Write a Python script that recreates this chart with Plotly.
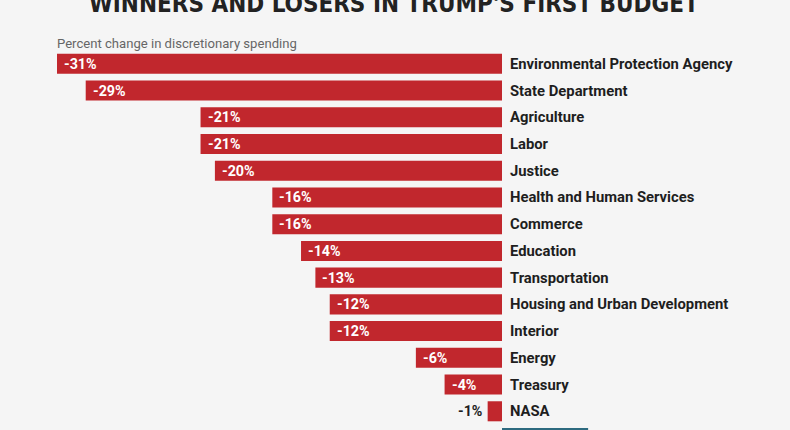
import plotly.graph_objects as go

departments = ["Environmental Protection Agency", "State Department", "Agriculture", "Labor",
               "Justice", "Health and Human Services", "Commerce", "Education", "Transportation",
               "Housing and Urban Development", "Interior", "Energy", "Treasury", "NASA",
               "Veterans Affairs"]
changes = [-31, -29, -21, -21, -20, -16, -16, -14, -13, -12, -12, -6, -4, -1, 6]

title_text = "WINNERS AND LOSERS IN TRUMP'S FIRST BUDGET"
subtitle_text = "Percent change in discretionary spending"

RED = "#c1272d"
TEAL = "#2d6a7f"
BG = "#f5f5f5"

colors = [RED if v < 0 else TEAL for v in changes]
idx = list(range(len(departments)))

fig = go.Figure(go.Bar(
    x=changes, y=idx, orientation="h",
    marker=dict(color=colors, line=dict(width=0)),
    width=0.75, hoverinfo="skip",
))

annotations = []
for i, (d, v) in enumerate(zip(departments, changes)):
    annotations.append(dict(x=0, y=i, xref="x", yref="y", text=d, showarrow=False,
                            xanchor="left", yanchor="middle", xshift=6,
                            font=dict(family="Roboto", size=14.8, color="#1e1e1e", weight="bold")))
    label = f"{v}%" if v < 0 else f"+{v}%"
    if abs(v) >= 3:
        annotations.append(dict(x=v, y=i, xref="x", yref="y", text=label, showarrow=False,
                                xanchor="left" if v < 0 else "right", yanchor="middle",
                                xshift=5 if v < 0 else -5,
                                font=dict(family="Roboto", size=14.3, color="white", weight="bold")))
    else:
        annotations.append(dict(x=v, y=i, xref="x", yref="y", text=label, showarrow=False,
                                xanchor="right", yanchor="middle", xshift=-4,
                                font=dict(family="Roboto", size=14.3, color="#1e1e1e", weight="bold")))

annotations.append(dict(x=394 / 790, y=1 - 15 / 430, xref="paper", yref="paper", text=title_text,
                        showarrow=False, xanchor="center", yanchor="bottom", yshift=-5,
                        font=dict(family="Liberation Sans Narrow, DejaVu Sans Condensed, Roboto",
                                  size=24, color="#222222", weight="bold")))
annotations.append(dict(x=55 / 790, y=1 - 50 / 430, xref="paper", yref="paper", text=subtitle_text,
                        showarrow=False, xanchor="left", yanchor="bottom", yshift=-3,
                        font=dict(family="Roboto", size=13.1, color="#666666")))

ppu = 445 / 31.0
x0 = 502
pitch = 26.73
c0 = 63.8

fig.update_layout(
    width=790, height=430,
    margin=dict(l=0, r=0, t=0, b=0),
    paper_bgcolor=BG, plot_bgcolor=BG,
    showlegend=False,
    xaxis=dict(range=[-x0 / ppu, (790 - x0) / ppu], visible=False, fixedrange=True),
    yaxis=dict(range=[(430 - c0) / pitch, -c0 / pitch], visible=False, fixedrange=True),
    annotations=annotations,
)

fig.write_html("out.html")
